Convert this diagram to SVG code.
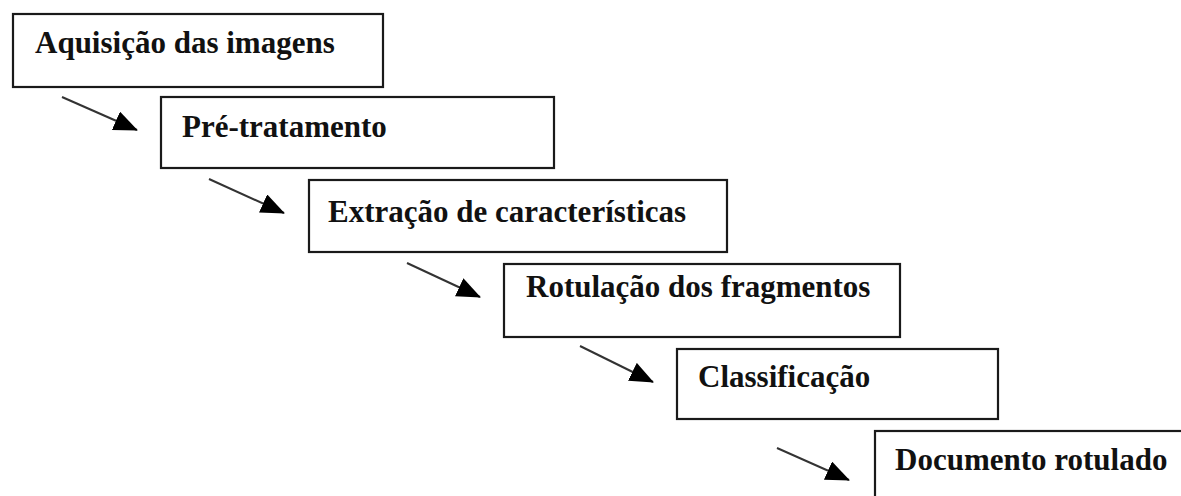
<svg xmlns="http://www.w3.org/2000/svg" width="1181" height="496" viewBox="0 0 1181 496">
<style>
.box{fill:#fff;stroke:#1a1a1a;stroke-width:2.2}
.lbl{font-family:"Liberation Serif","Times New Roman",serif;font-weight:bold;font-size:31px;fill:#111}
.conn{stroke:#333;stroke-width:2;fill:none;marker-end:url(#ah)}
</style>
<defs>
<marker id="ah" markerUnits="userSpaceOnUse" markerWidth="24" markerHeight="20" refX="23" refY="10" orient="auto" viewBox="0 0 24 20">
<path d="M0,0 L24,10 L0,20 z" fill="#000"/>
</marker>
</defs>
<rect width="1181" height="496" fill="#fff"/>
<g id="connectors">
<line class="conn" x1="62" y1="97" x2="137" y2="130"/>
<line class="conn" x1="209" y1="179" x2="284" y2="213"/>
<line class="conn" x1="407" y1="263" x2="480" y2="297"/>
<line class="conn" x1="580" y1="346" x2="653" y2="382"/>
<line class="conn" x1="777" y1="448" x2="849" y2="480"/>
</g>
<g id="n1"><rect class="box" x="13" y="14" width="370" height="73"/><text class="lbl" x="35" y="53">Aquisição das imagens</text></g>
<g id="n2"><rect class="box" x="161" y="97" width="393" height="71"/><text class="lbl" x="182" y="137">Pré-tratamento</text></g>
<g id="n3"><rect class="box" x="309" y="180" width="418" height="72"/><text class="lbl" x="328" y="222">Extração de características</text></g>
<g id="n4"><rect class="box" x="504" y="264" width="396" height="73"/><text class="lbl" x="526" y="297">Rotulação dos fragmentos</text></g>
<g id="n5"><rect class="box" x="677" y="349" width="321" height="70"/><text class="lbl" x="698" y="387">Classificação</text></g>
<g id="n6"><rect class="box" x="875" y="431" width="400" height="100"/><text class="lbl" x="895" y="470">Documento rotulado</text></g>
</svg>
